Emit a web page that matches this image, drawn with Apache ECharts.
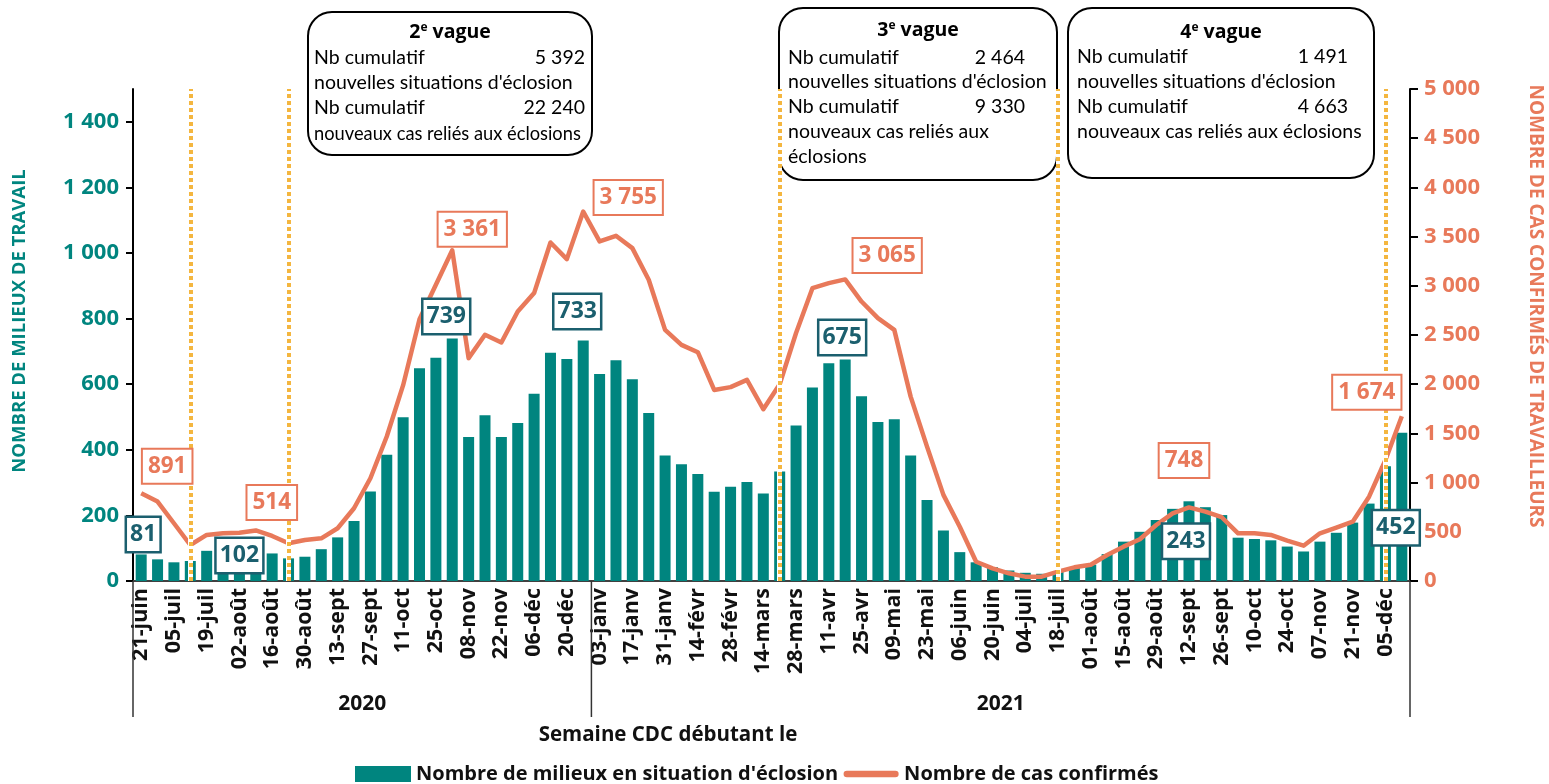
<!DOCTYPE html>
<html><head><meta charset="utf-8">
<script src="https://cdn.jsdelivr.net/npm/echarts@6/dist/echarts.min.js"></script>
<style>html,body{margin:0;padding:0;background:#fff}#c{width:1549px;height:784px}</style>
</head><body><div id="c"></div>
<script>
// ---------- DATA ----------
const weeks = ['21-juin','28-juin','05-juil','12-juil','19-juil','26-juil','02-août','09-août','16-août','23-août','30-août','06-sept','13-sept','20-sept','27-sept','04-oct','11-oct','18-oct','25-oct','01-nov','08-nov','15-nov','22-nov','29-nov','06-déc','13-déc','20-déc','27-déc',
'03-janv','10-janv','17-janv','24-janv','31-janv','07-févr','14-févr','21-févr','28-févr','07-mars','14-mars','21-mars','28-mars','04-avr','11-avr','18-avr','25-avr','02-mai','09-mai','16-mai','23-mai','30-mai','06-juin','13-juin','20-juin','27-juin','04-juil','11-juil','18-juil','25-juil','01-août','08-août','15-août','22-août','29-août','05-sept','12-sept','19-sept','26-sept','03-oct','10-oct','17-oct','24-oct','31-oct','07-nov','14-nov','21-nov','28-nov','05-déc','12-déc'];
const milieux = [81,66,57,61,92,93,102,96,84,69,74,97,133,183,273,385,499,649,681,739,439,505,439,482,571,696,677,733,
631,673,615,512,383,356,326,272,287,302,267,334,474,590,664,675,563,485,493,383,247,154,88,57,42,32,25,22,28,40,50,82,120,150,186,220,243,225,201,132,128,124,105,90,120,147,178,236,350,452];
const cas = [891,807,587,366,468,485,491,514,458,383,417,434,536,739,1044,1468,1990,2660,3010,3361,2265,2502,2424,2739,2926,3440,3271,3755,
3451,3508,3383,3061,2552,2400,2325,1942,1970,2044,1746,2000,2520,2976,3027,3065,2840,2671,2552,1874,1366,875,552,196,129,78,44,44,95,139,165,264,349,424,569,688,748,705,648,485,485,468,410,359,485,542,603,857,1230,1674];
const leftTicks = [0,200,400,600,800,1000,1200,1400];
const rightTicks = [0,500,1000,1500,2000,2500,3000,3500,4000,4500,5000];
const vagueWeeks = ['12-juil','23-août','21-mars','18-juil','05-déc'];
const milieuxLabelIdx = [0,6,19,27,43,64,77];
const casLabelIdx = [0,7,19,27,43,64,77];
const years = ['2020','2021'];
const yearFirstWeek = ['21-juin','03-janv'];
const waveNums = ['2','3','4'];
const waveSituations = [5392,2464,1491];
const waveCases = [22240,9330,4663];

// ---------- STYLE ----------
const TEAL='#00857F', TEALDARK='#1B5F6E', ORANGE='#E8795A', GOLD='#F4B63F';
const FB='Open Sans', FT='Lato';
const fmt = n => String(n).replace(/\B(?=(\d{3})+(?!\d))/g,' ');
const milieuxOffsets = [[2,-20],[0,8],[-6,-22],[-6,-29],[-3,-22],[-3,40],[-6,95]];
const casOffsets = [[26,-27],[16,-28],[20,-21],[45,-14],[42,-24],[-5,-47],[-35,-24]];
const lineIcon = 'path://M0,0 L0.01,0 L0,0.01 Z M4,4.5 L56,4.5 A3.5,3.5 0 0 1 56,11.5 L4,11.5 A3.5,3.5 0 0 1 4,4.5 Z M60,16 L59.99,16 L60,15.99 Z';

const chart = echarts.init(document.getElementById('c'));
const option = {
  animation:false,
  textStyle:{fontFamily:FB},
  grid:{left:133,right:139,top:89,bottom:203},
  legend:{left:350,top:759,itemGap:5,itemWidth:56,itemHeight:16,
    textStyle:{fontFamily:FB,fontSize:20,fontWeight:'bold',color:'#111'},
    data:[{name:"Nombre de milieux en situation d'éclosion",icon:'rect'},
          {name:'Nombre de cas confirmés',icon:lineIcon,itemStyle:{color:ORANGE}}]},
  xAxis:[{type:'category',data:weeks,
    axisLine:{lineStyle:{color:'#404040',width:2}},
    axisTick:{show:false},
    axisLabel:{interval:1,rotate:90,fontSize:21.5,fontWeight:'bold',color:'#111',fontFamily:FB,margin:7}}],
  yAxis:[
    {type:'value',min:0,max:1500,position:'left',splitLine:{show:false},
     axisLine:{show:true,lineStyle:{color:'#000',width:2}},
     axisTick:{show:true,length:7,lineStyle:{color:'#000',width:2},customValues:leftTicks},
     axisLabel:{customValues:leftTicks,formatter:v=>fmt(v),color:TEAL,fontSize:22,fontWeight:'bold',fontFamily:FB,margin:14}},
    {type:'value',min:0,max:5000,interval:500,position:'right',splitLine:{show:false},
     axisLine:{show:true,lineStyle:{color:'#000',width:2}},
     axisTick:{show:true,length:8,lineStyle:{color:'#000',width:2}},
     axisLabel:{formatter:v=>fmt(v),color:ORANGE,fontSize:22,fontWeight:'bold',fontFamily:FB,margin:14}}
  ],
  series:[
    {type:'bar',name:"Nombre de milieux en situation d'éclosion",data:milieux,yAxisIndex:0,barWidth:11,
     itemStyle:{color:TEAL},
     markLine:{silent:true,symbol:['none','none'],label:{show:false},z:4,
       data:vagueWeeks.flatMap(w=>[
         {xAxis:w,lineStyle:{color:'#fff',width:5,type:'solid'}},
         {xAxis:w,lineStyle:{color:GOLD,width:4,type:[4,3]}}])},
     markPoint:{symbol:'circle',symbolSize:0.1,itemStyle:{color:'rgba(0,0,0,0)'},z:10,
       label:{show:true,position:'inside',formatter:p=>fmt(p.value),color:TEALDARK,fontSize:23,fontWeight:'bold',fontFamily:FB,
         backgroundColor:'#fff',borderColor:TEALDARK,borderWidth:2.5,padding:[5,3,4,3],lineHeight:24},
       data:milieuxLabelIdx.map((i,k)=>({coord:[weeks[i],milieux[i]],value:milieux[i],label:{offset:milieuxOffsets[k]}}))}
    },
    {type:'line',name:'Nombre de cas confirmés',data:cas,yAxisIndex:1,symbol:'none',z:3,
     lineStyle:{width:4.5,color:ORANGE,join:'round'},itemStyle:{color:ORANGE},
     markPoint:{symbol:'circle',symbolSize:0.1,itemStyle:{color:'rgba(0,0,0,0)'},z:10,
       label:{show:true,position:'inside',formatter:p=>fmt(p.value),color:ORANGE,fontSize:22.5,fontWeight:'bold',fontFamily:FB,
         backgroundColor:'#fff',borderColor:ORANGE,borderWidth:2,padding:[5,5,4,5],lineHeight:24},
       data:casLabelIdx.map((i,k)=>({coord:[weeks[i],cas[i]],value:cas[i],label:{offset:casOffsets[k]}}))}
    }
  ]
};
chart.setOption(option);

// ---------- GRAPHICS (positions from the library's scales) ----------
const px = w => chart.convertToPixel({xAxisIndex:0}, w);
const band = px(weeks[1]) - px(weeks[0]);
const y0 = chart.convertToPixel({yAxisIndex:0}, 0);
const bounds = [px(yearFirstWeek[0]) - band/2, px(yearFirstWeek[1]) - band/2, px(weeks[weeks.length-1]) + band/2];
const g = [];
bounds.forEach(b=>g.push({type:'line',shape:{x1:b,y1:y0,x2:b,y2:y0+136},style:{stroke:'#333',lineWidth:1.5},z:5}));
years.forEach((yr,k)=>g.push({type:'text',x:(bounds[k]+bounds[k+1])/2,y:704,
  style:{text:yr,fontFamily:FB,fontSize:21,fontWeight:'bold',fill:'#111',textAlign:'center',textVerticalAlign:'middle'}}));
g.push({type:'text',x:668,y:735,style:{text:'Semaine CDC débutant le',fontFamily:FB,fontSize:20.5,fontWeight:'bold',fill:'#111',textAlign:'center',textVerticalAlign:'middle'}});
g.push({type:'text',x:20,y:321,rotation:Math.PI/2,style:{text:'NOMBRE DE MILIEUX DE TRAVAIL',fontFamily:FB,fontSize:18.5,fontWeight:'bold',fill:TEAL,textAlign:'center',textVerticalAlign:'middle'}});
g.push({type:'text',x:1535,y:306,rotation:-Math.PI/2,style:{text:'NOMBRE DE CAS CONFIRMÉS DE TRAVAILLEURS',fontFamily:FB,fontSize:19,fontWeight:'bold',fill:ORANGE,textAlign:'center',textVerticalAlign:'middle'}});

const boxes = [
  {x:308,y:12,w:284,h:143,left:314,right:585,rows:[32,58,83,108,134],wrap:false,lastSize:18.3},
  {x:779,y:8,w:278,h:172,left:788,right:1025,rows:[30,58,82,107,132,157],wrap:true,lastSize:19.5},
  {x:1068,y:8,w:306,h:170,left:1077,right:1348,rows:[32,57,82,107,132],wrap:false,lastSize:19.5}
];
const txt = (t,x,y,align,size) => ({type:'text',x:x,y:y,z:3,style:{text:t,fontFamily:FT,fontSize:size||19.5,fill:'#000',textAlign:align,textVerticalAlign:'middle'}});
boxes.forEach((b,k)=>{
  g.push({type:'rect',shape:{x:b.x,y:b.y,width:b.w,height:b.h,r:24},style:{fill:'#fff',stroke:'#000',lineWidth:2},z:2});
  g.push({type:'text',x:b.x+b.w/2,y:b.rows[0],z:3,style:{text:'{b|'+waveNums[k]+'}{s|e}{b| vague}',textAlign:'center',textVerticalAlign:'middle',
    rich:{b:{fontFamily:FB,fontSize:19.5,fontWeight:'bold',color:'#000'},s:{fontFamily:FB,fontSize:12,fontWeight:'bold',color:'#000',verticalAlign:'top',padding:[0,0,8,0]}}}});
  g.push(txt('Nb cumulatif',b.left,b.rows[1],'left'));
  g.push(txt(fmt(waveSituations[k]),b.right,b.rows[1],'right'));
  g.push(txt("nouvelles situations d'éclosion",b.left,b.rows[2],'left'));
  g.push(txt('Nb cumulatif',b.left,b.rows[3],'left'));
  g.push(txt(fmt(waveCases[k]),b.right,b.rows[3],'right'));
  if(b.wrap){
    g.push(txt('nouveaux cas reliés aux',b.left,b.rows[4],'left'));
    g.push(txt('éclosions',b.left,b.rows[5],'left'));
  } else {
    g.push(txt('nouveaux cas reliés aux éclosions',b.left,b.rows[4],'left',b.lastSize));
  }
});
chart.setOption({graphic:g});
</script></body></html>
